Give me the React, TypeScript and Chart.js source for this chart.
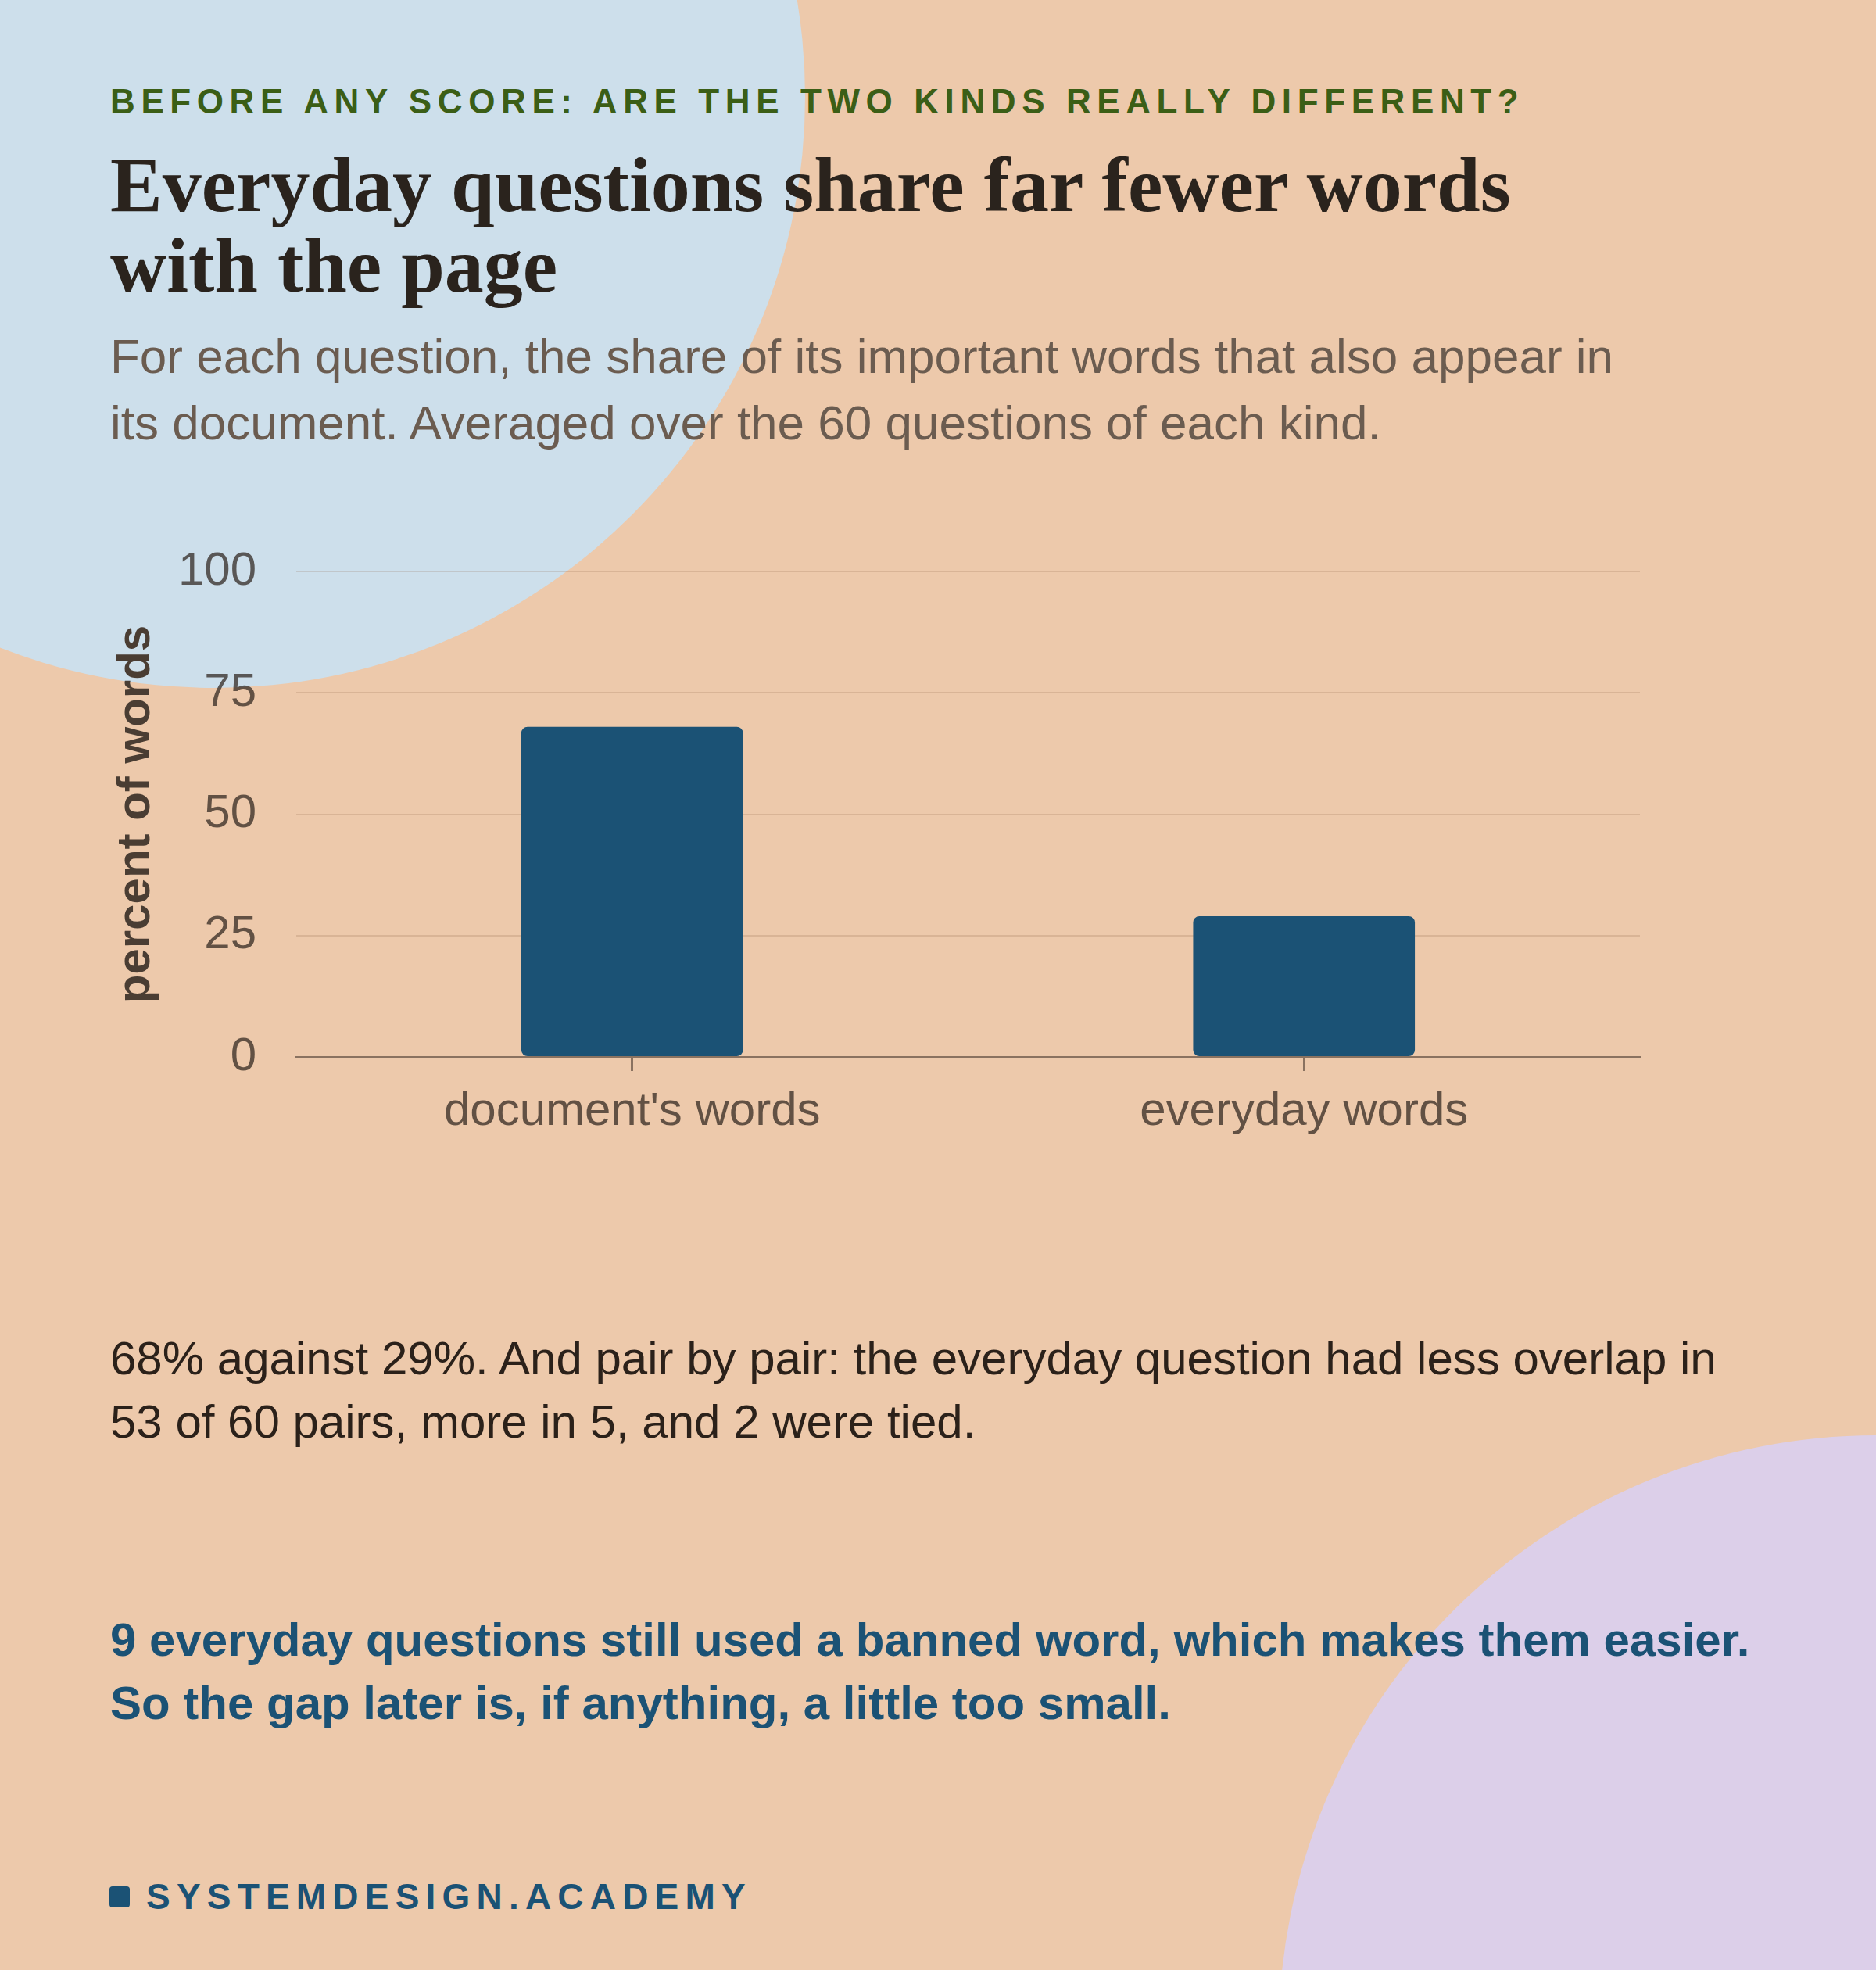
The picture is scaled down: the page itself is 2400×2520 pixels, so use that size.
import { useEffect, useRef } from 'react';
import { Chart, registerables } from 'chart.js';

Chart.register(...registerables);

// chart data
const categories = ["document's words", 'everyday words'];
const overlapPercent = [68, 29];
const yTickValues = [0, 25, 50, 75, 100];

const PEACH = '#edc9ab';
const SKY = '#cddfeb';
const LILAC = '#dccfe9';
const NAVY = '#1b5275';
const AXIS = '#8a7260';
const TICK_TEXT = 'rgba(45, 35, 28, 0.72)';
const SANS = "'Liberation Sans', Arial, sans-serif";
const SERIF = "'Liberation Serif', 'Times New Roman', serif";

function OverlapChart() {
  const canvasRef = useRef<HTMLCanvasElement>(null);

  useEffect(() => {
    const canvas = canvasRef.current;
    if (!canvas) return;

    const chart = new Chart(canvas, {
      type: 'bar',
      data: {
        labels: categories,
        datasets: [{
          data: overlapPercent,
          backgroundColor: NAVY,
          borderRadius: 8,
          borderSkipped: false,
          barPercentage: 0.33,
          categoryPercentage: 1
        }]
      },
      options: {
        animation: false,
        responsive: false,
        layout: { padding: { left: 138, right: 302, top: 60, bottom: 0 } },
        plugins: {
          legend: { display: false },
          tooltip: { enabled: false }
        },
        scales: {
          x: {
            grid: {
              display: true,
              drawOnChartArea: false,
              drawTicks: true,
              tickLength: 18,
              color: AXIS,
              lineWidth: 3,
              offset: false
            },
            border: { display: true, color: AXIS, width: 3 },
            ticks: {
              padding: 16,
              color: TICK_TEXT,
              font: { family: SANS, size: 60 }
            },
            afterFit: (scale) => { scale.height = 120; }
          },
          y: {
            min: 0,
            max: 100,
            afterBuildTicks: (scale) => {
              scale.ticks = yTickValues.map((value) => ({ value }));
            },
            grid: {
              color: 'rgba(140, 100, 70, 0.2)',
              lineWidth: 2,
              drawTicks: true,
              tickLength: 45,
              tickColor: 'rgba(0, 0, 0, 0)'
            },
            border: { display: false },
            ticks: {
              padding: 6,
              color: TICK_TEXT,
              font: { family: SANS, size: 60 }
            },
            title: {
              display: true,
              text: 'percent of words',
              color: '#4a3d33',
              padding: 0,
              font: { family: SANS, size: 60, weight: 'bold' }
            },
            afterFit: (scale) => { scale.width = 241; }
          }
        }
      }
    });

    return () => chart.destroy();
  }, []);

  return (
    <canvas
      ref={canvasRef}
      width={2400}
      height={801}
      style={{ position: 'absolute', left: 0, top: 671, width: 2400, height: 801 }}
    />
  );
}

export default function App() {
  return (
    <div
      style={{
        position: 'absolute',
        left: 0,
        top: 0,
        width: 2400,
        height: 2520,
        overflow: 'hidden',
        background: PEACH,
        fontFamily: SANS
      }}
    >
      {/* background blobs */}
      <div style={{ position: 'absolute', left: 274 - 756, top: 124 - 756, width: 1512, height: 1512, borderRadius: '50%', background: SKY }} />
      <div style={{ position: 'absolute', left: 2400 - 764, top: 2600 - 764, width: 1528, height: 1528, borderRadius: '50%', background: LILAC }} />

      <div style={{ position: 'absolute', left: 141, top: 104, fontSize: 44, lineHeight: '52px', fontWeight: 700, letterSpacing: 7.6, color: '#3b5e16', whiteSpace: 'nowrap' }}>
        BEFORE ANY SCORE: ARE THE TWO KINDS REALLY DIFFERENT?
      </div>

      <div style={{ position: 'absolute', left: 141, top: 185, fontFamily: SERIF, fontSize: 100, lineHeight: '103px', fontWeight: 700, color: '#2a231d', whiteSpace: 'nowrap' }}>
        Everyday questions share far fewer words<br />with the page
      </div>

      <div style={{ position: 'absolute', left: 141, top: 413, fontSize: 62, lineHeight: '85px', color: '#6b5c50', whiteSpace: 'nowrap' }}>
        For each question, the share of its important words that also appear in<br />its document. Averaged over the 60 questions of each kind.
      </div>

      <OverlapChart />

      <div style={{ position: 'absolute', left: 141, top: 1697, fontSize: 60, lineHeight: '81px', color: '#2b211a', whiteSpace: 'nowrap' }}>
        68% against 29%. And pair by pair: the everyday question had less overlap in<br />53 of 60 pairs, more in 5, and 2 were tied.
      </div>

      <div style={{ position: 'absolute', left: 141, top: 2057, fontSize: 60, lineHeight: '81px', fontWeight: 700, color: NAVY, whiteSpace: 'nowrap' }}>
        9 everyday questions still used a banned word, which makes them easier.<br />So the gap later is, if anything, a little too small.
      </div>

      <div style={{ position: 'absolute', left: 140, top: 2413, width: 26, height: 27, borderRadius: 4, background: NAVY }} />
      <div style={{ position: 'absolute', left: 187, top: 2398, fontSize: 46, lineHeight: '56px', fontWeight: 700, letterSpacing: 8.2, color: NAVY, whiteSpace: 'nowrap' }}>
        SYSTEMDESIGN.ACADEMY
      </div>
    </div>
  );
}
